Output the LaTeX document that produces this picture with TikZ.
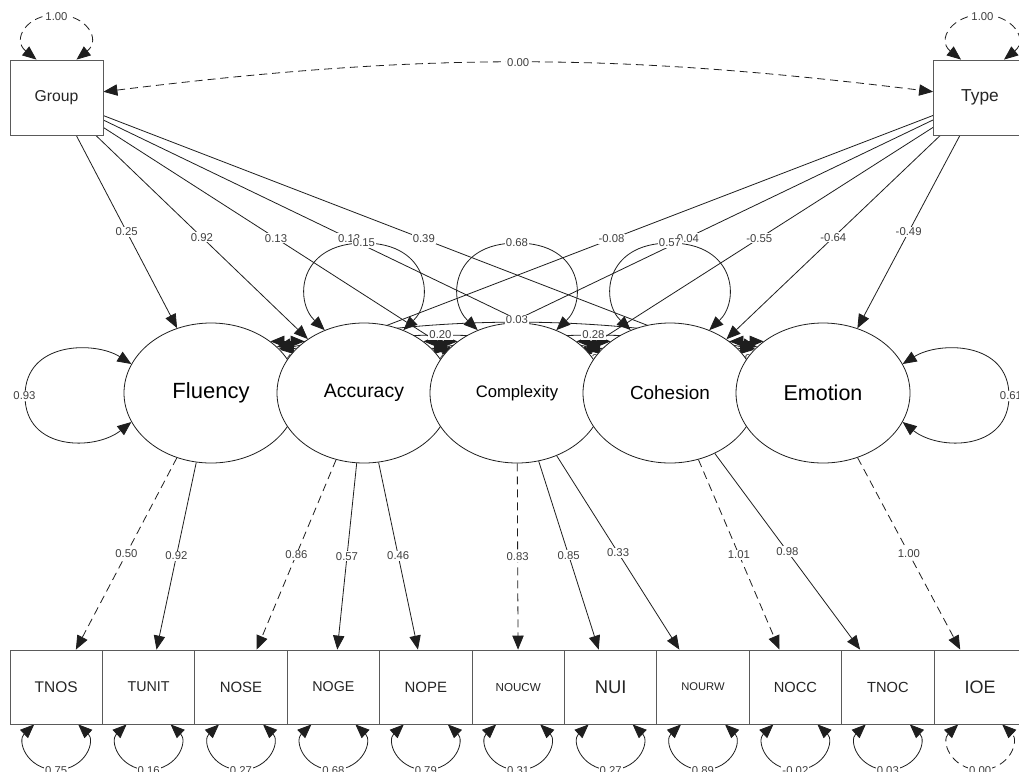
\documentclass[tikz,border=0pt]{standalone}
\usepackage{fontspec}
\setmainfont{Liberation Sans}
\usetikzlibrary{arrows.meta,shapes.geometric,calc}
\pgfdeclarelayer{bg}
\pgfdeclarelayer{edges}
\pgfsetlayers{bg,edges,main}
\definecolor{lblc}{HTML}{404040}
\definecolor{linec}{HTML}{1E1E1E}
\definecolor{boxc}{HTML}{5A5A5A}
\tikzset{
  reg/.style={draw=linec, line width=0.6pt, -{Triangle[length=10.5pt,width=8.5pt]}},
  cov/.style={draw=linec, line width=0.6pt, {Triangle[length=10.5pt,width=8.5pt]}-{Triangle[length=10.5pt,width=8.5pt]}},
  fixd/.style={dash pattern=on 6pt off 3.75pt},
  lbl/.style={fill=white, inner sep=0.8pt, text=lblc, font=\fontsize{8.5}{9}\selectfont},
  latent/.style={ellipse, draw=linec, line width=0.6pt, fill=white, minimum width=130.5pt, minimum height=105pt, inner sep=0pt},
  manif/.style={rectangle, draw=boxc, line width=0.6pt, fill=white, minimum width=69.3pt, minimum height=55.5pt, inner sep=0pt, text=black!85},
  exo/.style={rectangle, draw=boxc, line width=0.6pt, fill=white, minimum width=69.75pt, minimum height=56.25pt, inner sep=0pt, text=black!85}
}
\newcommand{\fsz}[1]{\fontsize{#1}{#1}\selectfont}
\begin{document}
\begin{tikzpicture}[x=0.75pt,y=0.75pt]
\useasboundingbox (0,0) rectangle (1019,-771);
\begin{pgfonlayer}{bg}
\fill[white] (0,0) rectangle (1019,-771);
\end{pgfonlayer}

% exogenous
\node[exo, font=\fsz{11.8}] (grp) at (56.5,-97.5) {Group};
\node[exo, font=\fsz{13}] (typ) at (980,-97.5) {Type};
% latents (left to right so that later ones lie on top)
\node[latent, font=\fsz{16.5}] (flu) at (211,-393) {Fluency};
\node[latent, font=\fsz{14.6}] (acc) at (364,-393) {Accuracy};
\node[latent, font=\fsz{12.5}] (com) at (517,-393) {Complexity};
\node[latent, font=\fsz{14.2}] (coh) at (670,-393) {Cohesion};
\node[latent, font=\fsz{16.1}] (emo) at (823,-393) {Emotion};
% indicators
\node[manif, font=\fsz{11.6}] (tnos)  at (56.2,-687)  {TNOS};
\node[manif, font=\fsz{10.7}] (tunit) at (148.6,-687) {TUNIT};
\node[manif, font=\fsz{11.2}] (nose)  at (241.0,-687) {NOSE};
\node[manif, font=\fsz{10.7}] (noge)  at (333.4,-687) {NOGE};
\node[manif, font=\fsz{11.2}] (nope)  at (425.8,-687) {NOPE};
\node[manif, font=\fsz{8.7}]  (noucw) at (518.2,-687) {NOUCW};
\node[manif, font=\fsz{13.8}] (nui)   at (610.6,-687) {NUI};
\node[manif, font=\fsz{8.4}]  (nourw) at (703.0,-687) {NOURW};
\node[manif, font=\fsz{11}]   (nocc)  at (795.4,-687) {NOCC};
\node[manif, font=\fsz{11}]   (tnoc)  at (887.8,-687) {TNOC};
\node[manif, font=\fsz{13.5}] (ioe)   at (980.2,-687) {IOE};

\begin{pgfonlayer}{edges}
% Group - Type covariance
\draw[cov,fixd] (grp) to[bend left=7] node[midway,lbl]{0.00} (typ);
% regressions
\foreach \t/\v in {flu/0.25, acc/0.92, com/0.13, coh/0.12, emo/0.39}
  \draw[reg] (grp) -- node[lbl]{\v} (\t);
\foreach \t/\v in {flu/-0.08, acc/-0.04, com/-0.55, coh/-0.64, emo/-0.49}
  \draw[reg] (typ) -- node[lbl]{\v} (\t);
% loadings
\draw[reg,fixd] (flu) -- node[lbl]{0.50} (tnos);
\draw[reg] (flu) -- node[lbl]{0.92} (tunit);
\draw[reg,fixd] (acc) -- node[lbl]{0.86} (nose);
\draw[reg] (acc) -- node[lbl]{0.57} (noge);
\draw[reg] (acc) -- node[lbl]{0.46} (nope);
\draw[reg,fixd] (com) -- node[lbl]{0.83} (noucw);
\draw[reg] (com) -- node[lbl]{0.85} (nui);
\draw[reg] (com) -- node[lbl]{0.33} (nourw);
\draw[reg,fixd] (coh) -- node[lbl]{1.01} (nocc);
\draw[reg] (coh) -- node[lbl]{0.98} (tnoc);
\draw[reg,fixd] (emo) -- node[lbl]{1.00} (ioe);
% latent covariances
\draw[cov] (flu.35) .. controls +(160.2,32) and +(-160.2,32) .. (emo.145);
\draw[cov] (flu.33) .. controls +(107.8,17.5) and +(-107.8,17.5) .. (coh.147);
\draw[cov] (acc.33) .. controls +(107.8,17.5) and +(-107.8,17.5) .. (emo.147);
\draw[cov] (flu.32) .. controls +(56.2,5.6) and +(-56.2,5.6) .. (com.148);
\draw[cov] (acc.32) .. controls +(56.2,5.6) and +(-56.2,5.6) .. (coh.148);
\draw[cov] (com.32) .. controls +(56.2,5.6) and +(-56.2,5.6) .. (emo.148);
\draw[cov] (flu.41) -- (acc.139);
\draw[cov] (acc.41) -- (com.139);
\draw[cov] (com.41) -- (coh.139);
\draw[cov] (coh.41) -- (emo.139);
\node[lbl] at (440.5,-335) {0.20};
\node[lbl] at (593.5,-335) {0.28};
\node[lbl] at (287.5,-359) {0.44};
\node[lbl] at (440.5,-359) {0.42};
\node[lbl] at (593.5,-359) {0.36};
\node[lbl] at (746.5,-359) {0.05};
% latent variances (top loops)
\foreach \n/\v in {acc/0.15, com/0.68, coh/0.57}{
  \draw[cov] (\n.122) .. controls ($(\n.center)+(-70,92)$) and ($(\n.center)+(-66,150)$) .. ($(\n.center)+(0,150)$)
     .. controls ($(\n.center)+(66,150)$) and ($(\n.center)+(70,92)$) .. (\n.58);
  \node[lbl] at ($(\n.center)+(0,150)$) {\v};
}
% side loops
\draw[cov] (flu.160) .. controls ($(flu.center)+(-116,52)$) and ($(flu.center)+(-186,52)$) .. ($(flu.center)+(-186,-3)$)
   .. controls ($(flu.center)+(-186,-58)$) and ($(flu.center)+(-116,-58)$) .. (flu.200);
\node[lbl] at ($(flu.center)+(-186.5,-3)$) {0.93};
\draw[cov] (emo.20) .. controls ($(emo.center)+(116,52)$) and ($(emo.center)+(186,52)$) .. ($(emo.center)+(186,-3)$)
   .. controls ($(emo.center)+(186,-58)$) and ($(emo.center)+(116,-58)$) .. (emo.340);
\node[lbl] at ($(emo.center)+(188,-3)$) {0.61};
% residual variances of indicators
\foreach \n/\v in {tnos/0.75, tunit/0.16, nose/0.27, noge/0.68, nope/0.79, noucw/0.31, nui/0.27, nourw/0.89, nocc/-0.02, tnoc/0.03}{
  \draw[cov] ($(\n.south)+(-22,0)$) .. controls +(-17,-16) and +(-31,2) .. ($(\n.south)+(0,-46)$)
     .. controls +(31,2) and +(17,-16) .. ($(\n.south)+(22,0)$);
  \node[lbl] at ($(\n.south)+(0,-46.5)$) {\v};
}
\draw[cov,fixd] ($(ioe.south)+(-22,0)$) .. controls +(-17,-16) and +(-31,2) .. ($(ioe.south)+(0,-46)$)
   .. controls +(31,2) and +(17,-16) .. ($(ioe.south)+(22,0)$);
\node[lbl] at ($(ioe.south)+(0,-46.5)$) {0.00};
% exogenous variances
\draw[cov,fixd] ($(grp.north)+(-20,0)$) .. controls +(-25,20) and +(-30,0) .. ($(grp.north)+(0,45)$)
   .. controls +(30,0) and +(25,20) .. ($(grp.north)+(20,0)$);
\node[lbl] at ($(grp.north)+(0,43)$) {1.00};
\draw[cov,fixd] ($(typ.north)+(-19,0)$) .. controls +(-25,20) and +(-30,0) .. ($(typ.north)+(2.5,45)$)
   .. controls +(30,0) and +(25,20) .. ($(typ.north)+(24,0)$);
\node[lbl] at ($(typ.north)+(2.5,43)$) {1.00};
\end{pgfonlayer}

\node[lbl] at (517,-320) {0.03};
\end{tikzpicture}
\end{document}
